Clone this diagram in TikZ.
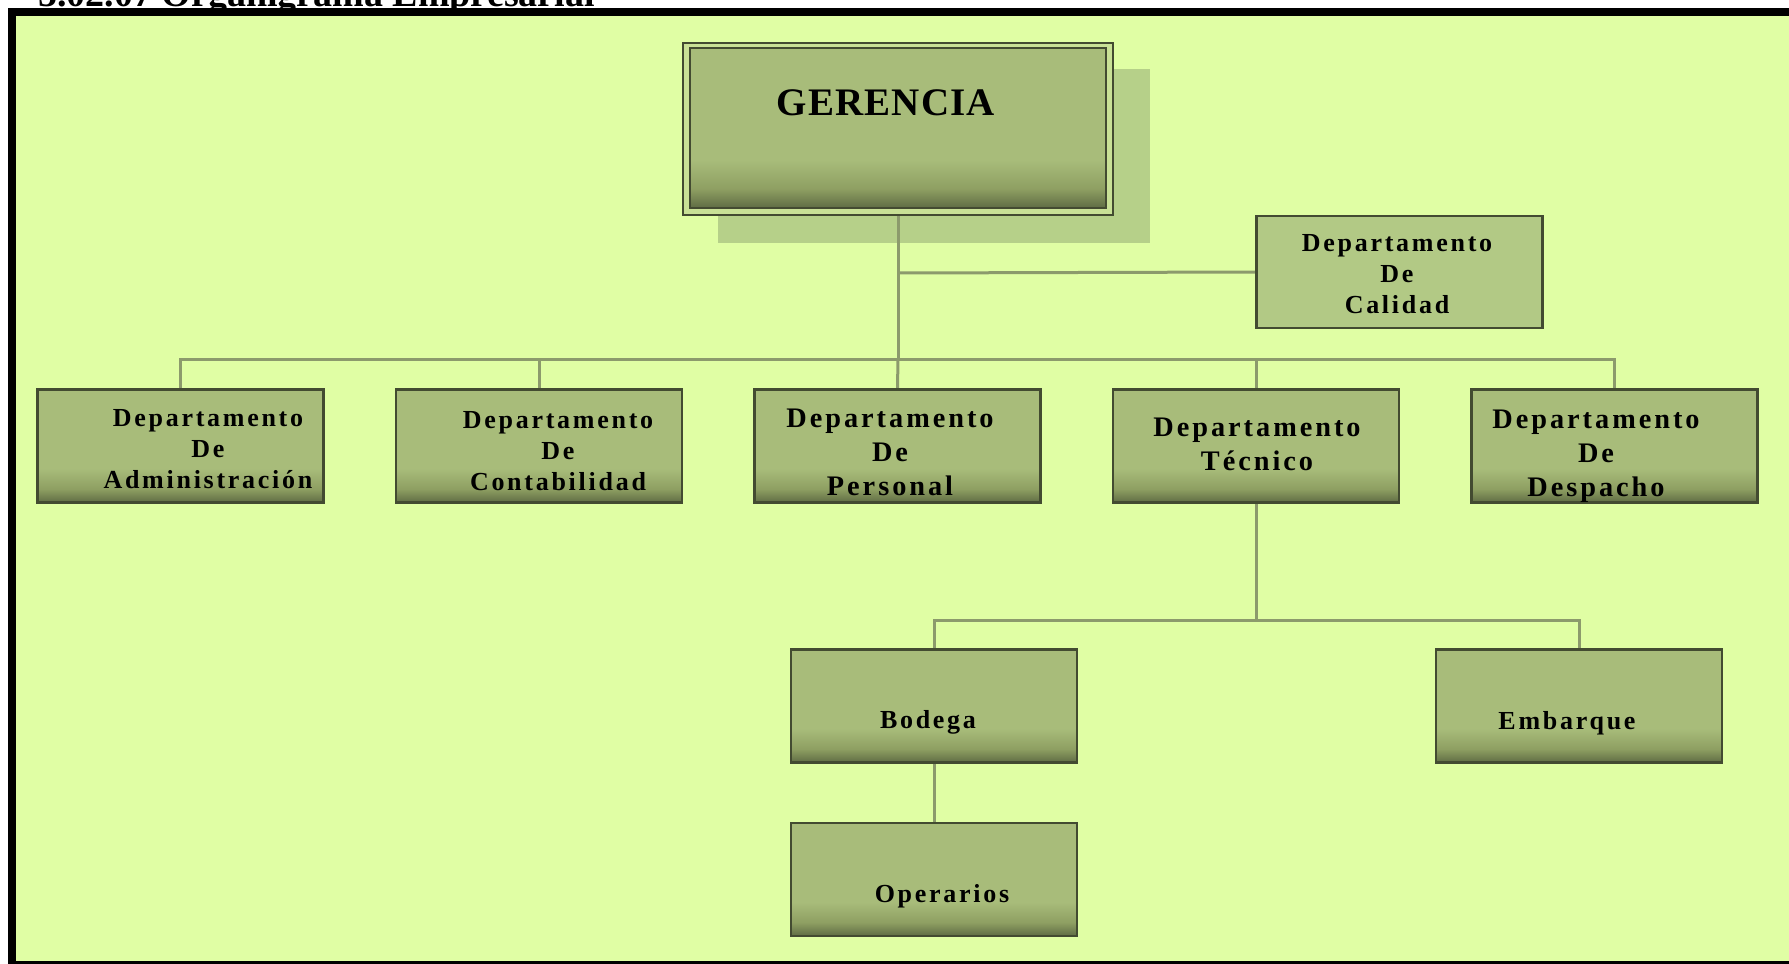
\documentclass[tikz,border=0pt]{standalone}
\usepackage{fontspec}
\setmainfont{Liberation Serif}
\newfontfamily\lsfont{Liberation Serif}[LetterSpace=10.5]
\newfontfamily\gerfont{Liberation Serif}[LetterSpace=3]
\definecolor{bgc}{HTML}{E0FEA4}
\definecolor{shadowc}{HTML}{B6D089}
\definecolor{gapc}{HTML}{C9E196}
\definecolor{bxlight}{HTML}{A8BC7A}
\definecolor{bxmid}{HTML}{8E9F62}
\definecolor{bxdark}{HTML}{5F6C44}
\definecolor{bxedge}{HTML}{434B31}
\definecolor{calc}{HTML}{B2C985}
\definecolor{connc}{HTML}{8C9A6C}
\pgfdeclareverticalshading{boxshade}{100bp}{color(0bp)=(bxdark); color(25bp)=(bxdark); color(31bp)=(bxmid); color(40bp)=(bxlight); color(100bp)=(bxlight)}
\tikzset{
  deptbox/.style={draw=bxedge, line width=2.5pt, shading=boxshade, rectangle, inner sep=0pt,
    minimum width=286pt, minimum height=113pt},
  calbox/.style={draw=bxedge, line width=2.5pt, fill=calc, rectangle, inner sep=0pt,
    minimum width=286pt, minimum height=112pt},
  gerbox/.style={draw=bxedge, line width=2.5pt, shading=boxshade, rectangle, inner sep=0pt,
    minimum width=416pt, minimum height=160pt},
  gerframe/.style={draw=bxedge, line width=2pt, fill=gapc, rectangle, inner sep=0pt,
    minimum width=430pt, minimum height=172pt},
  conn/.style={draw=connc, line width=3pt},
  txt/.style={anchor=base, align=center, inner sep=0pt, font=\lsfont\bfseries\fontsize{26}{31}\selectfont},
  txtbig/.style={anchor=base, align=center, inner sep=0pt, font=\lsfont\bfseries\fontsize{28.3}{34}\selectfont},
}
\begin{document}
\begin{tikzpicture}[x=1pt,y=-1pt]
\useasboundingbox (0,0) rectangle (1789,964);
% title (clipped at the top)
\node[anchor=base west, inner sep=0pt, font=\bfseries\fontsize{38}{40}\selectfont] (title) at (38,6) {5.02.07 Organigrama Empresarial};
% frame and background
\fill[black] (8,8) rectangle (1800,975);
\fill[bgc] (16,16) rectangle (1800,961);
% shadow of GERENCIA
\fill[shadowc] (718,69) rectangle (1150,243);
% boxes (positions)
\node[gerframe] (gerf) at (898,128.5) {};
\node[gerbox] (ger) at (898,128) {};
\node[calbox] (cal) at (1399.5,272) {};
\node[deptbox] (adm) at (180.5,446) {};
\node[deptbox] (con) at (539,446) {};
\node[deptbox] (per) at (897.5,446) {};
\node[deptbox] (tec) at (1256,446) {};
\node[deptbox] (des) at (1614.5,446) {};
\node[deptbox] (bod) at (934,706) {};
\node[deptbox] (ope) at (934,879.5) {};
\node[deptbox] (emb) at (1579,706) {};
% junctions
\coordinate (j1) at (898,273);
\coordinate (j2) at (898,359);
\coordinate (j3) at (1256,620);
% connectors
\draw[conn] (gerf.south) -- (j2);
\draw[conn] (j1) -- (cal.west);
\draw[conn] (adm.north) |- (j2) -| (des.north);
\draw[conn] (con.north) -- (con.north |- j2);
\draw[conn] (per.north) -- (j2);
\draw[conn] (tec.north) -- (tec.north |- j2);
\draw[conn] (tec.south) -- (j3);
\draw[conn] (bod.north) |- (j3) -| (emb.north);
\draw[conn] (bod.south) -- (ope.north);
% redraw boxes over connectors
\node[gerframe] at (gerf) {};
\node[gerbox] at (ger) {};
\node[calbox] at (cal) {};
\foreach \b in {adm,con,per,tec,des,bod,ope,emb} {\node[deptbox] at (\b) {};}
% texts (anchor base = baseline of last line)
\node[anchor=base, inner sep=0pt, font=\gerfont\bfseries\fontsize{39}{40}\selectfont] (ger-t) at (886,115) {GERENCIA};
\node[txt] (cal-t) at (1397,313) {Departamento\\De\\Calidad};
\node[txt] (adm-t) at (208,488) {Departamento\\De\\Administración};
\node[txt] (con-t) at (558,490) {Departamento\\De\\Contabilidad};
\node[txtbig] (per-t) at (890,495) {Departamento\\De\\Personal};
\node[txtbig] (tec-t) at (1257,470) {Departamento\\Técnico};
\node[txtbig] (des-t) at (1596,496) {Departamento\\De\\Despacho};
\node[txt] (bod-t) at (928,728) {Bodega};
\node[txt] (ope-t) at (942,902) {Operarios};
\node[txt] (emb-t) at (1567,729) {Embarque};
\end{tikzpicture}
\end{document}
